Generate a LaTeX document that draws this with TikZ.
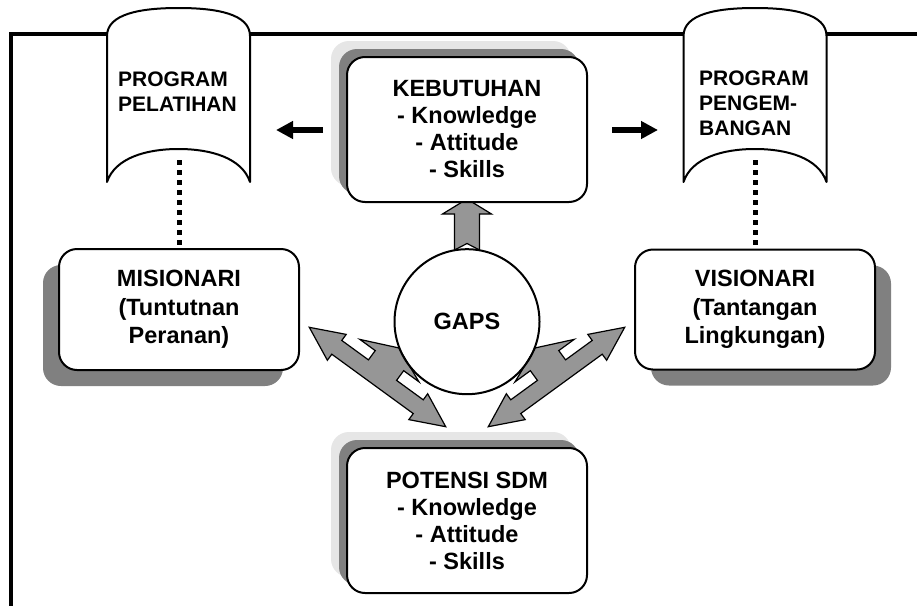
\documentclass[tikz,border=0pt]{standalone}
\usepackage{fontspec}
\setmainfont{Liberation Sans}
\usetikzlibrary{arrows.meta,shadows}
\definecolor{shadedark}{HTML}{808080}
\definecolor{shadelight}{HTML}{E6E6E6}
\definecolor{arrowfill}{HTML}{969696}
\tikzset{
  boxtext/.style={font=\fontsize{23.5}{27}\selectfont\bfseries, align=center},
  tallboxtext/.style={font=\fontsize{23.5}{28.3}\selectfont\bfseries, align=center},
  roundbox/.style={draw, line width=2pt, fill=white, rounded corners=18pt,
    minimum width=240pt, inner sep=0pt, boxtext},
  twoshadow/.style={
    copy shadow={shadow xshift=-16pt, shadow yshift=16pt, fill=shadelight, draw=none},
    copy shadow={shadow xshift=-8pt, shadow yshift=8pt, fill=shadedark, draw=none}},
  sideshadow/.style={copy shadow={shadow xshift=#1, shadow yshift=-16pt, fill=shadedark, draw=none}},
  scroll/.style={draw, line width=2pt, fill=white, line join=round},
  scrolltext/.style={font=\fontsize{21}{25}\selectfont\bfseries, align=left,
    inner sep=0pt, anchor=north west},
  dotline/.style={line width=5pt, dash pattern=on 5pt off 5pt},
  blackarrow/.style={line width=5.5pt, -{Triangle[length=17pt,width=17pt]}},
  blockarrow/.style={fill=arrowfill, draw, line width=1.2pt, line join=miter},
  % sheet with a bulging top and a curled-up lower edge
  scrollpage/.pic={
    \path[scroll] (-71.5,182) -- (-71.5,36) .. controls (-71.5,14) and (-38.5,8) .. (0,8)
      .. controls (38.5,8) and (71.5,14) .. (71.5,36) -- (71.5,182)
      .. controls (63.5,158) and (32.5,149) .. (0,149)
      .. controls (-32.5,149) and (-63.5,158) .. (-71.5,182) -- cycle;
  },
  % double-headed lightning arrow, tip to tip along the x axis, fin on the -y side
  bolt/.pic={
    \path[blockarrow] (0,0) -- (34,-16) -- (34,-8.5) -- (67,-8.5) -- (67,-20)
      -- (48,-20) -- (84.4,-36) -- (120.8,-20.5) -- (101.8,-20.5) -- (101.8,-8.5)
      -- (134.8,-8.5) -- (134.8,-16) -- (168.8,0) -- (134.8,16) -- (134.8,8.5)
      -- (34,8.5) -- (34,16) -- cycle;
  },
}
\begin{document}
\begin{tikzpicture}[x=1pt,y=-1pt]
\useasboundingbox (0,0) rectangle (917,605);
\fill[white] (0,0) rectangle (917,605);

% open frame
\draw[line width=3.6pt] (11,640) -- (11,34) -- (940,34);

% training and development sheets
\pic at (178.5,0) {scrollpage};
\pic at (755,0) {scrollpage};
\node[scrolltext] (pelatihan) at (118,72) {PROGRAM\\PELATIHAN};
\node[scrolltext] (pengembangan) at (699,71) {PROGRAM\\PENGEM-\\BANGAN};
\coordinate (pelb) at (179,160);
\coordinate (pengb) at (755,160);

% arrows from the needs box to both sheets
\coordinate (la0) at (323,130);
\coordinate (la1) at (276,130);
\coordinate (ra0) at (612,130);
\coordinate (ra1) at (658,130);
\draw[blackarrow] (la0) -- (la1);
\draw[blackarrow] (ra0) -- (ra1);

% block arrow from the gap circle up to the needs box
\path[blockarrow] (467,199) -- (491.5,214) -- (479.5,214) -- (479.5,250) -- (467,243.5)
  -- (454.5,250) -- (454.5,214) -- (442.5,214) -- cycle;

% lightning arrows
\pic[rotate=-36.08] at (309.3,327.3) {bolt};
\pic[rotate=-143.92, yscale=-1] at (624.7,327.3) {bolt};

% gap circle
\node[draw, circle, line width=2pt, minimum size=145pt, inner sep=0pt, boxtext] (gaps)
  at (467,321.7) {GAPS};

% boxes
\node[roundbox, twoshadow, minimum height=145pt] (keb) at (467,129.5)
  {KEBUTUHAN\\- Knowledge\\- Attitude\\- Skills};
\node[roundbox, twoshadow, minimum height=145pt] (pot) at (467,520.5)
  {POTENSI SDM\\- Knowledge\\- Attitude\\- Skills};
\node[roundbox, tallboxtext, sideshadow=-16pt, minimum height=121pt] (mis) at (179,309.5)
  {MISIONARI\\(Tuntutnan\\Peranan)};
\node[roundbox, tallboxtext, sideshadow=16pt, minimum height=120pt] (vis) at (755,309.5)
  {VISIONARI\\(Tantangan\\Lingkungan)};

% dotted links from the sheets down to the role boxes
\draw[dotline] (pelb) -- (mis.north);
\draw[dotline] (pengb) -- (vis.north);
\end{tikzpicture}
\end{document}
